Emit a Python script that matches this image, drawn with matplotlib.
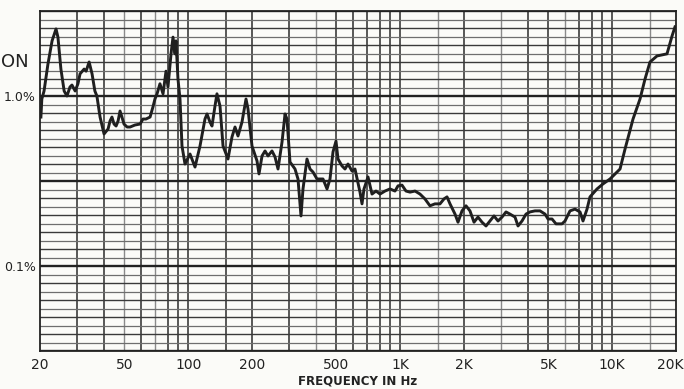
import numpy as np
import matplotlib
matplotlib.use("Agg")
import matplotlib.pyplot as plt
from matplotlib.transforms import ScaledTranslation

# distortion trace (Hz, %)
freq = [20.2, 20.4, 20.9, 21.8, 22.8, 23.8, 24.3, 25.1, 26.0, 26.8, 27.7, 28.3, 29.3,
        30.2, 30.9, 32.3, 33.0, 34.1, 35.2, 36.3, 37.1, 38.4, 40.1, 41.9, 42.8, 43.7,
        44.7, 45.7, 46.7, 47.7, 48.7, 49.8, 51.5, 53.2, 56.1, 59.3, 61.2, 63.2, 66.1,
        68.2, 69.7, 71.3, 73.6, 76.1, 78.6, 80.3, 83.0, 84.8, 86.7, 87.6, 89.5, 91.5,
        93.5, 96.6, 102, 107.7, 113.7, 120, 122.7, 126.7, 129.5, 133.8, 136.7, 141.3,
        146, 154.1, 160.9, 166.3, 171.8, 179.4, 187.4, 191.5, 200, 211.2, 215.8, 223,
        230.4, 238, 248.5, 256.8, 265.3, 277.1, 286.3, 292.5, 302.2, 319.1, 329.6,
        340.5, 348, 363.4, 375.5, 387.9, 405.1, 432.4, 451.7, 466.6, 482.1, 498, 509,
        531.5, 549.2, 567.3, 592.6, 612.1, 646.3, 660.6, 675, 705.1, 736.3, 769, 803.2,
        848.1, 895.3, 945.2, 976.6, 1020, 1065, 1113, 1175, 1240, 1309, 1382, 1459,
        1541, 1609, 1663, 1718, 1814, 1874, 1957, 2044, 2134, 2230, 2328, 2432, 2540,
        2652, 2770, 2894, 3022, 3156, 3296, 3480, 3596, 3756, 3922, 4096, 4324, 4566,
        4822, 4982, 5202, 5432, 5800, 5992, 6325, 6678, 7052, 7284, 7608, 7858, 8482,
        9052, 9768, 10890, 11500, 12540, 13530, 14290, 15080, 16270, 18140, 19150, 19780]
dist = [0.752, 0.960, 1.07, 1.54, 2.11, 2.48, 2.22, 1.44, 1.07, 1.00, 1.13, 1.16, 1.07,
        1.18, 1.35, 1.44, 1.40, 1.585, 1.35, 1.07, 1.00, 0.752, 0.598, 0.640, 0.713, 0.752,
        0.684, 0.666, 0.713, 0.816, 0.752, 0.684, 0.657, 0.657, 0.675, 0.684, 0.732, 0.732, 0.752,
        0.862, 0.960, 1.03, 1.18, 1.03, 1.40, 1.13, 1.77, 2.22, 1.77, 2.11, 1.26, 0.960,
        0.508, 0.398, 0.456, 0.382, 0.508, 0.732, 0.784, 0.703, 0.666, 0.873, 1.03, 0.873,
        0.508, 0.426, 0.574, 0.657, 0.582, 0.703, 0.960, 0.839, 0.508, 0.415, 0.348, 0.444,
        0.475, 0.444, 0.475, 0.438, 0.372, 0.536, 0.784, 0.732, 0.409, 0.372, 0.325,
        0.197, 0.284, 0.426, 0.372, 0.357, 0.325, 0.325, 0.284, 0.325, 0.469, 0.543, 0.426,
        0.388, 0.372, 0.398, 0.362, 0.372, 0.272, 0.232, 0.284, 0.334, 0.265, 0.276, 0.265,
        0.276, 0.284, 0.276, 0.296, 0.299, 0.276, 0.272, 0.276, 0.265, 0.248, 0.226, 0.232,
        0.232, 0.248, 0.255, 0.232, 0.202, 0.181, 0.211, 0.226, 0.211, 0.181, 0.194, 0.181, 0.172,
        0.184, 0.197, 0.184, 0.194, 0.208, 0.202, 0.194, 0.172, 0.184, 0.202, 0.208, 0.211, 0.211,
        0.202, 0.189, 0.189, 0.177, 0.177, 0.184, 0.211, 0.216, 0.208, 0.184, 0.216, 0.255, 0.284,
        0.304, 0.325, 0.372, 0.488, 0.732, 0.960, 1.26, 1.585, 1.72, 1.77, 2.25, 2.55]

xtick_vals = [20, 50, 100, 200, 500, 1000, 2000, 5000, 10000, 20000]
xtick_labels = ["20", "50", "100", "200", "500", "1K", "2K", "5K", "10K", "20K"]
ytick_vals = [1.0, 0.1]
ytick_labels = ["1.0%", "0.1%"]

# chart paper: vertical lines at 1-2-...-9 plus the 1.5 lines, horizontal every 1 dB
vgrid = [30, 40, 50, 60, 70, 80, 90, 100, 150, 200, 300, 400, 500, 600, 700, 800, 900,
         1000, 1500, 2000, 3000, 4000, 5000, 6000, 7000, 8000, 9000, 10000, 15000]
vgrid_light = [50, 70, 400, 1500, 3000, 6000, 15000]
db_steps = range(-30, 11)

plt.rcParams['font.family'] = ['DejaVu Sans']

fig = plt.figure(figsize=(6.84, 3.89), dpi=100, facecolor='#fbfbf8')
ax = fig.add_axes([40 / 684, 1 - 351 / 389, 636 / 684, 340 / 389])
ax.set_facecolor('#fbfbf8')
ax.set_xscale('log')
ax.set_yscale('log')
ax.set_xlim(20, 20000)
ax.set_ylim(10 ** (-30 / 20), 10 ** (10 / 20))

for f in vgrid:
    if f in vgrid_light:
        ax.axvline(f, color='#8a8a8a', lw=1.0, zorder=1)
    else:
        ax.axvline(f, color='#2b2b2b', lw=1.1, zorder=1)
for k in db_steps:
    level = 10 ** (k / 20)
    if k % 10 == 0:
        ax.axhline(level, color='#222222', lw=1.7, zorder=1)
    elif k % 2 == 0:
        ax.axhline(level, color='#3a3a3a', lw=1.0, zorder=1)
    else:
        ax.axhline(level, color='#6e6e6e', lw=0.9, zorder=1)

ax.plot(freq, dist, color='#1f1f1f', lw=2.1, zorder=3)

ax.set_xticks(xtick_vals)
ax.set_xticklabels(xtick_labels)
ax.set_xticks([], minor=True)
ax.set_yticks(ytick_vals)
ax.set_yticklabels(ytick_labels)
ax.set_yticks([], minor=True)
ax.tick_params(axis='x', length=0, pad=5, labelsize=10, labelcolor='#222222')
ax.tick_params(axis='y', length=0, pad=3, labelsize=9, labelcolor='#222222')
# the last label sits flush with the right edge of the scan
last = ax.get_xticklabels()[-1]
last.set_ha('right')
last.set_transform(last.get_transform() + ScaledTranslation(8 / 100, 0, fig.dpi_scale_trans))
for s in ax.spines.values():
    s.set_color('#222222')
    s.set_linewidth(1.3)

fig.text(358 / 684, 1 - 381 / 389, "FREQUENCY IN Hz", ha='center', va='center',
         fontsize=8.5, fontweight='bold', color='#222222')
fig.text(1 / 684, 1 - 62 / 389, "ON", ha='left', va='center', fontsize=13,
         color='#222222')

fig.savefig("out.png", dpi=100, facecolor=fig.get_facecolor())
